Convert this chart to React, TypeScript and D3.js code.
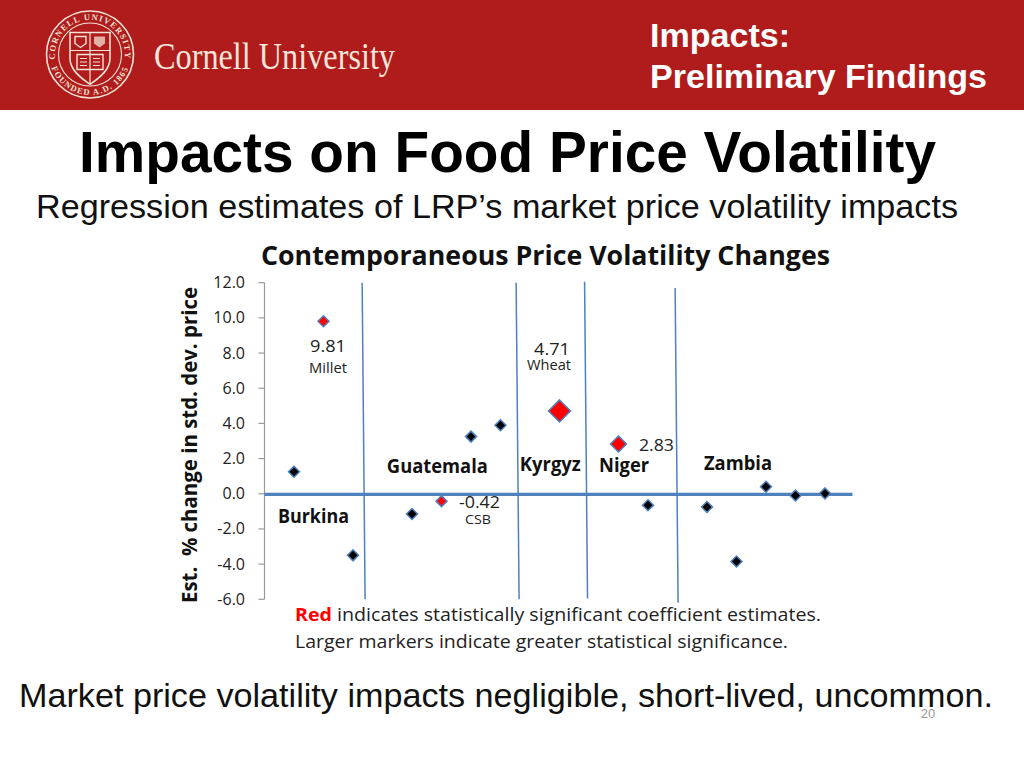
import React from "react";
import * as d3 from "d3";

const xIndex = [1, 2, 3, 5, 6, 7, 8, 10, 12, 13, 15, 16, 17, 18, 19];
const values = [1.25, 9.81, -3.5, -1.15, -0.42, 3.25, 3.9, 4.71, 2.83, -0.65, -0.75, -3.85, 0.4, -0.1, 0.02];
const significance = [0, 1, 0, 0, 1, 0, 0, 3, 2, 0, 0, 0, 0, 0, 0];
const yTicks = [12, 10, 8, 6, 4, 2, 0, -2, -4, -6];
const dividerTopX = [3.31, 8.53, 10.85, 13.92];
const dividerBottomX = [3.41, 8.63, 10.95, 14.02];
const dividerTopY = [12, 12, 12.05, 11.7];
const dividerBottomY = [-6, -6, -5.95, -6.2];
const countries = ["Burkina", "Guatemala", "Kyrgyz", "Niger", "Zambia"];
const countryX = [1.66, 5.86, 9.69, 12.19, 16.05];
const countryY = [-1.35, 1.5, 1.6, 1.55, 1.65];
const countryWidth = [71, 101, 61, 50, 68];

const sans = "'Liberation Sans', Arial, sans-serif";
const body = "'Open Sans', 'Noto Sans', sans-serif";
const x = d3.scaleLinear().domain([0, 20]).range([264.5, 854.5]);
const y = d3.scaleLinear().domain([-6, 12]).range([599.3, 282.7]);

function Diamond({ cx, cy, r, fill }: { cx: number; cy: number; r: number; fill: string }) {
  return (
    <path
      d={`M${cx},${cy - r}L${cx + r},${cy}L${cx},${cy + r}L${cx - r},${cy}Z`}
      fill={fill}
      stroke="#4f81bd"
      strokeWidth={1.5}
    />
  );
}

function Seal() {
  const cx = 90, cy = 54.5;
  const cream = "#f2e3d5";
  return (
    <g>
      <circle cx={cx} cy={cy} r={43.5} fill="none" stroke={cream} strokeWidth={1.6} />
      <circle cx={cx} cy={cy} r={31.5} fill="none" stroke={cream} strokeWidth={1.1} />
      <defs>
        <path id="sealTop" d={`M${cx - 33},${cy + 12}A35,35 0 1 1 ${cx + 33},${cy + 12}`} />
        <path id="sealBottom" d={`M${cx - 39},${cy + 12}A41,41 0 0 0 ${cx + 39},${cy + 12}`} />
      </defs>
      <text fontFamily="'Liberation Serif', serif" fontSize={8.5} fontWeight={700} fill={cream} letterSpacing={1.2}>
        <textPath href="#sealTop" startOffset="50%" textAnchor="middle">CORNELL UNIVERSITY</textPath>
      </text>
      <text fontFamily="'Liberation Serif', serif" fontSize={8.5} fontWeight={700} fill={cream} letterSpacing={1.2}>
        <textPath href="#sealBottom" startOffset="50%" textAnchor="middle">FOUNDED A.D. 1865</textPath>
      </text>
      <path
        d={`M${cx - 20},${cy - 22}H${cx + 20}V${cy + 4}C${cx + 20},${cy + 16} ${cx + 8},${cy + 24} ${cx},${cy + 30}C${cx - 8},${cy + 24} ${cx - 20},${cy + 16} ${cx - 20},${cy + 4}Z`}
        fill="none"
        stroke={cream}
        strokeWidth={1.6}
      />
      <path d={`M${cx},${cy - 22}V${cy + 29}M${cx - 20},${cy - 4}H${cx + 20}`} stroke={cream} strokeWidth={1.2} />
      <path d={`M${cx - 15},${cy - 18}h11v7l-5.5,4l-5.5,-4Z`} fill="none" stroke={cream} strokeWidth={1.4} />
      <path d={`M${cx + 4},${cy - 18}h11v7l-5.5,4l-5.5,-4Z`} fill={cream} opacity={0.75} />
      <path d={`M${cx - 13},${cy}h26v15h-26Z`} fill="none" stroke={cream} strokeWidth={1.4} />
      <path
        d={`M${cx - 10},${cy + 4}h7M${cx - 10},${cy + 7.5}h7M${cx - 10},${cy + 11}h7M${cx + 3},${cy + 4}h7M${cx + 3},${cy + 7.5}h7M${cx + 3},${cy + 11}h7`}
        stroke={cream}
        strokeWidth={1}
      />
    </g>
  );
}

export default function App() {
  return (
    <svg
      width={1024}
      height={768}
      style={{ position: "absolute", left: 0, top: 0, background: "#fff" }}
    >
      <rect x={0} y={0} width={1024} height={110} fill="#b01c1c" />
      <Seal />
      <text x={154} y={69} fontFamily="'Liberation Serif', serif" fontSize={37} fill="#f4e6da" textLength={241} lengthAdjust="spacingAndGlyphs">
        Cornell University
      </text>
      <text x={650} y={47} fontFamily={sans} fontWeight={700} fontSize={33.5} fill="#fff" textLength={140} lengthAdjust="spacingAndGlyphs">Impacts:</text>
      <text x={650} y={88} fontFamily={sans} fontWeight={700} fontSize={33.5} fill="#fff" textLength={337} lengthAdjust="spacingAndGlyphs">Preliminary Findings</text>

      <text x={79} y={172} fontFamily={sans} fontWeight={700} fontSize={58} fill="#000" textLength={857} lengthAdjust="spacingAndGlyphs">Impacts on Food Price Volatility</text>
      <text x={36} y={218} fontFamily={sans} fontSize={33.5} fill="#111" textLength={922} lengthAdjust="spacingAndGlyphs">Regression estimates of LRP’s market price volatility impacts</text>
      <text x={261} y={265} fontFamily={body} fontWeight={700} fontSize={26.5} fill="#111" textLength={569} lengthAdjust="spacingAndGlyphs">Contemporaneous Price Volatility Changes</text>

      <line x1={x(0)} x2={x(0)} y1={y(12)} y2={y(-6)} stroke="#999" strokeWidth={1.2} />
      {yTicks.map((t) => (
        <g key={t}>
          <line x1={x(0) - 6} x2={x(0)} y1={y(t)} y2={y(t)} stroke="#999" strokeWidth={1.2} />
          <text x={245} y={y(t) + 5.5} textAnchor="end" fontFamily={body} fontSize={16} fill="#222">{t.toFixed(1)}</text>
        </g>
      ))}
      <text
        transform="translate(197,445) rotate(-90)"
        textAnchor="middle"
        fontFamily={body}
        fontWeight={700}
        fontSize={20.5}
        fill="#111"
        textLength={316}
        lengthAdjust="spacingAndGlyphs"
        xmlSpace="preserve"
      >
        Est.  % change in std. dev. price
      </text>

      {dividerTopX.map((tx, i) => (
        <line key={i} x1={x(tx)} y1={y(dividerTopY[i])} x2={x(dividerBottomX[i])} y2={y(dividerBottomY[i])} stroke="#4f81bd" strokeWidth={1.5} />
      ))}
      <line x1={x(0)} x2={x(20) - 2} y1={y(0) + 0.6} y2={y(0) + 0.6} stroke="#4f81bd" strokeWidth={3.4} />

      {xIndex.map((xi, i) => {
        const s = significance[i];
        return (
          <Diamond
            key={xi}
            cx={x(xi)}
            cy={y(values[i])}
            r={s === 3 ? 11 : s === 2 ? 8 : 5.5}
            fill={s > 0 ? "#f00" : "#000"}
          />
        );
      })}

      {countries.map((c, i) => (
        <text key={c} x={x(countryX[i]) - countryWidth[i] / 2} y={y(countryY[i]) + 5.5} fontFamily={body} fontWeight={700} fontSize={19} fill="#111" textLength={countryWidth[i]} lengthAdjust="spacingAndGlyphs">{c}</text>
      ))}

      <g fontFamily={body} fill="#222">
        <text x={310} y={352} fontSize={17} textLength={36} lengthAdjust="spacingAndGlyphs">9.81</text>
        <text x={309} y={373} fontSize={14} textLength={38} lengthAdjust="spacingAndGlyphs">Millet</text>
        <text x={534} y={355} fontSize={17} textLength={36} lengthAdjust="spacingAndGlyphs">4.71</text>
        <text x={527} y={370} fontSize={14} textLength={44} lengthAdjust="spacingAndGlyphs">Wheat</text>
        <text x={639} y={451} fontSize={17} textLength={35} lengthAdjust="spacingAndGlyphs">2.83</text>
        <text x={459} y={508} fontSize={17} textLength={41} lengthAdjust="spacingAndGlyphs">-0.42</text>
        <text x={465} y={524} fontSize={13} textLength={26} lengthAdjust="spacingAndGlyphs">CSB</text>
      </g>

      <text x={295} y={621} fontFamily={body} fontSize={18.5} fill="#222" textLength={526} lengthAdjust="spacingAndGlyphs">
        <tspan fill="#f00" fontWeight={700}>Red</tspan> indicates statistically significant coefficient estimates.
      </text>
      <text x={295} y={648} fontFamily={body} fontSize={18.5} fill="#222" textLength={493} lengthAdjust="spacingAndGlyphs">
        Larger markers indicate greater statistical significance.
      </text>

      <text x={19} y={707} fontFamily={sans} fontSize={34} fill="#111" textLength={974} lengthAdjust="spacingAndGlyphs">Market price volatility impacts negligible, short-lived, uncommon.</text>
      <text x={928} y={718} textAnchor="middle" fontFamily={sans} fontSize={13} fill="#999">20</text>
    </svg>
  );
}
